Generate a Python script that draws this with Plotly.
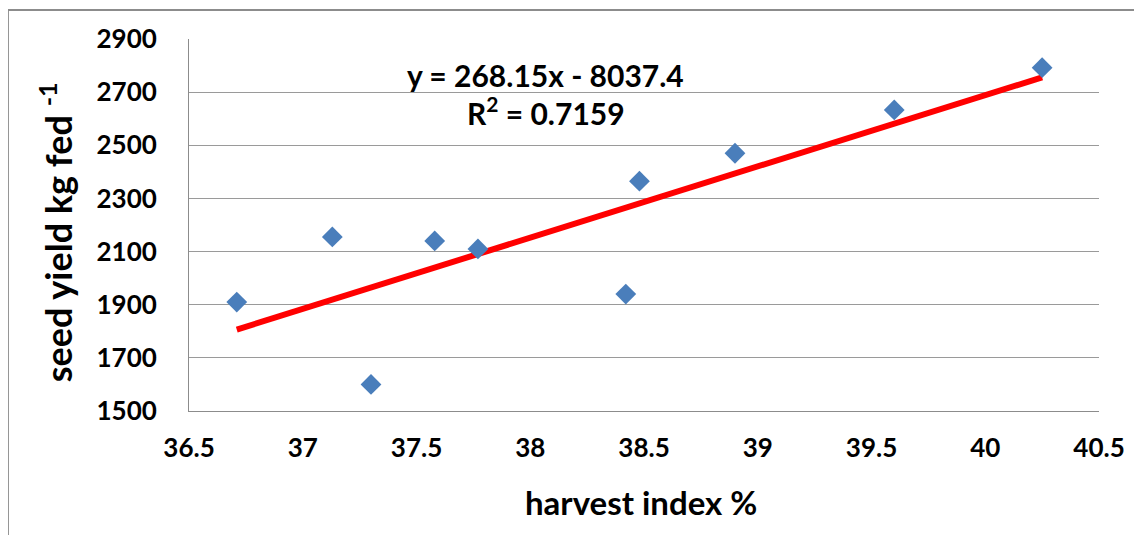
import plotly.graph_objects as go

harvest_index = [36.71, 37.13, 37.30, 37.58, 37.77, 38.42, 38.48, 38.90, 39.60, 40.25]
seed_yield = [1910, 2155, 1600, 2140, 2110, 1940, 2365, 2470, 2633, 2792]
slope = 268.15
intercept = -8037.4
r_squared = 0.7159
x_ticks = [36.5, 37, 37.5, 38, 38.5, 39, 39.5, 40, 40.5]
y_ticks = [1500, 1700, 1900, 2100, 2300, 2500, 2700, 2900]

x_fit = [min(harvest_index), max(harvest_index)]
y_fit = [slope * v + intercept for v in x_fit]

FONT = "Lato"
fig = go.Figure()
fig.add_trace(go.Scatter(x=x_fit, y=y_fit, mode="lines",
                         line=dict(color="#ff0000", width=6), hoverinfo="skip"))
fig.add_trace(go.Scatter(x=harvest_index, y=seed_yield, mode="markers",
                         marker=dict(symbol="diamond", size=16, color="#4a7ebb",
                                     line=dict(width=0))))

fig.update_layout(
    width=1142, height=535,
    margin=dict(l=181, r=51, t=31, b=132),
    plot_bgcolor="white", paper_bgcolor="white",
    showlegend=False,
    font=dict(family=FONT, size=26, color="#000000", weight="bold"),
    xaxis=dict(range=[36.5, 40.5], tickvals=x_ticks, ticktext=[f"{v:g}" for v in x_ticks],
               showgrid=False, zeroline=False, showline=True, linecolor="#8c8c8c", linewidth=1,
               ticks="", ticklabelstandoff=14,
               tickfont=dict(family=FONT, size=26, weight="bold")),
    yaxis=dict(range=[1500, 2900], tickvals=y_ticks, ticktext=[str(v) for v in y_ticks],
               showgrid=True, gridcolor="#9a9a9a", gridwidth=1, zeroline=False,
               showline=True, linecolor="#8c8c8c", linewidth=1,
               ticks="", ticklabelstandoff=26,
               tickfont=dict(family=FONT, size=26, weight="bold")),
    annotations=[
        dict(text="harvest index %", x=0.497, y=-0.245, xref="paper", yref="paper",
             showarrow=False, xanchor="center", yanchor="middle",
             font=dict(family=FONT, size=33, weight="bold")),
        dict(text="seed yield kg fed <sup>-1</sup>", x=-0.146, y=0.481, xref="paper", yref="paper",
             showarrow=False, xanchor="center", yanchor="middle", textangle=-90,
             font=dict(family=FONT, size=36, weight="bold")),
        dict(text=f"y = {slope}x - {abs(intercept)}", x=0.392, y=0.903, xref="paper", yref="paper",
             showarrow=False, xanchor="center", yanchor="middle",
             font=dict(family=FONT, size=30, weight="bold")),
        dict(text=f"R<sup>2</sup> = {r_squared}", x=0.392, y=0.806, xref="paper", yref="paper",
             showarrow=False, xanchor="center", yanchor="middle",
             font=dict(family=FONT, size=30, weight="bold")),
    ],
    shapes=[
        dict(type="rect", xref="paper", yref="paper", x0=-0.199, x1=1.06, y0=-0.36, y1=1.078,
             line=dict(color="#8c8c8c", width=2), fillcolor="rgba(0,0,0,0)", layer="below"),
    ],
)

fig.write_html("out.html")
